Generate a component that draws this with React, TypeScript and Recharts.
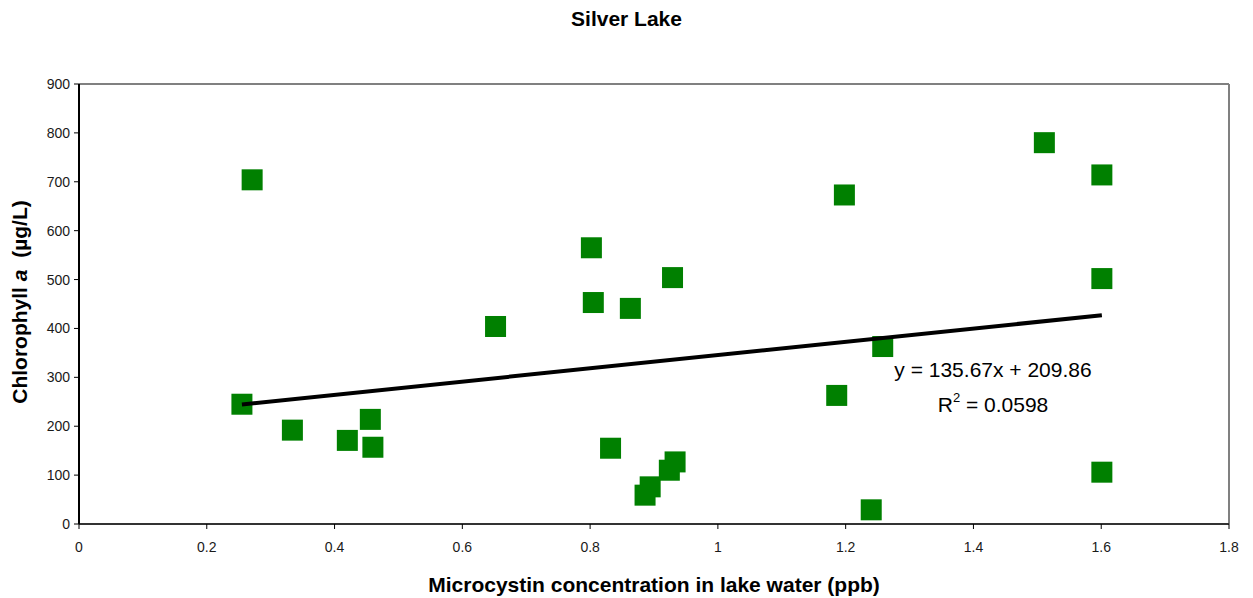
import React from "react";
import {
  ReferenceLine,
  Scatter,
  ScatterChart,
  XAxis,
  YAxis,
} from "recharts";

// Microcystin (ppb) vs chlorophyll a (µg/L), one point per sample.
const microcystin = [
  0.271, 0.255, 0.334, 0.42, 0.456, 0.46, 0.652, 0.802, 0.805, 0.863, 0.929,
  0.832, 0.886, 0.894, 0.924, 0.933, 1.198, 1.186, 1.258, 1.24, 1.511, 1.601,
  1.601, 1.601,
];
const chlorophyll = [
  704, 245, 192, 171, 214, 157, 404, 565, 453, 441, 504, 155, 59, 76, 110, 127,
  673, 263, 363, 29, 780, 714, 502, 106,
];

// Linear fit as printed on the chart
const slope = 135.67;
const intercept = 209.86;
const rSquared = "0.0598";

const xTicks = [0, 0.2, 0.4, 0.6, 0.8, 1, 1.2, 1.4, 1.6, 1.8];
const yTicks = [0, 100, 200, 300, 400, 500, 600, 700, 800, 900];

const points = microcystin.map((x, i) => ({ x, y: chlorophyll[i] }));
const xMin = Math.min(...microcystin);
const xMax = Math.max(...microcystin);
const trend = [xMin, xMax].map((x) => ({ x, y: slope * x + intercept }));

const FONT = '"Liberation Sans", Arial, sans-serif';
const GREEN = "#008000";

const Square = (props: any) => {
  const s = 21;
  return <rect x={props.cx - s / 2} y={props.cy - s / 2} width={s} height={s} fill={GREEN} />;
};

export default function App() {
  return (
    <div style={{ position: "absolute", left: 0, top: 0, width: 1253, height: 598, fontFamily: FONT, background: "#fff" }}>
      <div
        style={{
          position: "absolute", left: 0, top: 8, width: 1253, textAlign: "center",
          fontSize: 21, lineHeight: "21px", fontWeight: "bold", color: "#000",
        }}
      >
        Silver Lake
      </div>

      <ScatterChart width={1253} height={598} margin={{ top: 84, right: 24, bottom: 0, left: 0 }}>
        <ReferenceLine y={900} stroke="#808080" strokeWidth={2} />
        <ReferenceLine x={1.8} stroke="#808080" strokeWidth={2} />
        <XAxis
          type="number"
          dataKey="x"
          domain={[0, 1.8]}
          ticks={xTicks}
          height={74}
          axisLine={{ stroke: "#333", strokeWidth: 2 }}
          tickLine={{ stroke: "#000" }}
          tickSize={5}
          tickMargin={13}
          tick={{ fill: "#1a1a1a", fontSize: 14, fontFamily: FONT }}
        />
        <YAxis
          type="number"
          dataKey="y"
          domain={[0, 900]}
          ticks={yTicks}
          width={79}
          axisLine={{ stroke: "#000", strokeWidth: 2 }}
          tickLine={{ stroke: "#000" }}
          tickSize={5}
          tickMargin={4}
          tick={{ fill: "#1a1a1a", fontSize: 14, fontFamily: FONT }}
        />
        <Scatter data={points} shape={Square} isAnimationActive={false} />
        <Scatter
          data={trend}
          line={{ stroke: "#000", strokeWidth: 4 }}
          shape={() => <g />}
          isAnimationActive={false}
        />
      </ScatterChart>

      <div
        style={{
          position: "absolute", left: 843, top: 352, width: 300, textAlign: "center",
          fontSize: 21, lineHeight: "35px", color: "#000",
        }}
      >
        <div>{`y = ${slope}x + ${intercept}`}</div>
        <div>
          R<span style={{ fontSize: 13, position: "relative", top: -10 }}>2</span>
          {` = ${rSquared}`}
        </div>
      </div>

      <div
        style={{
          position: "absolute", left: 354, top: 574, width: 600, textAlign: "center",
          fontSize: 21, lineHeight: "21px", fontWeight: "bold", color: "#000",
        }}
      >
        Microcystin concentration in lake water (ppb)
      </div>

      <div
        style={{
          position: "absolute", left: -130, top: 290, width: 300, height: 24,
          textAlign: "center", fontSize: 21, lineHeight: "24px", fontWeight: "bold",
          color: "#000", transform: "rotate(-90deg)", whiteSpace: "pre",
        }}
      >
        Chlorophyll <i>a</i>  (µg/L)
      </div>
    </div>
  );
}
